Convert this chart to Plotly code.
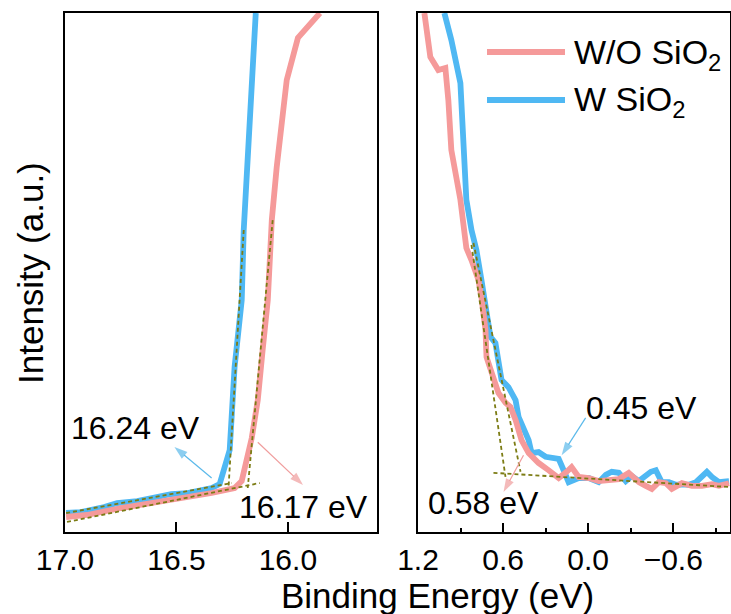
import plotly.graph_objects as go

# ---------------- data ----------------
# Left panel (secondary electron cut-off region)
left_wo_E = [16.995, 16.901, 16.748, 16.599, 16.450, 16.342, 16.239, 16.207, 16.162, 16.135,
             16.113, 16.090, 16.072, 16.050, 16.005, 15.955, 15.856]
left_wo_I = [2.89, 3.28, 4.62, 5.59, 6.74, 7.51, 8.48, 9.83, 18.1, 25.4,
             35.1, 44.7, 60.1, 70.3, 87.1, 95.2, 100.0]
left_w_E = [16.995, 16.928, 16.824, 16.766, 16.676, 16.631, 16.523, 16.450, 16.342, 16.306,
            16.261, 16.239, 16.207, 16.198, 16.144]
left_w_I = [3.66, 3.85, 4.82, 5.59, 5.97, 6.36, 7.32, 7.51, 8.48, 9.25,
            15.8, 31.8, 44.7, 58.2, 100.0]

# Right panel (valence band region)
right_wo_E = [1.155, 1.113, 1.057, 1.007, 0.986, 0.965, 0.901, 0.873, 0.859, 0.823,
              0.774, 0.753, 0.724, 0.717, 0.668, 0.633, 0.583, 0.548, 0.512, 0.470,
              0.420, 0.350, 0.279, 0.208, 0.152, 0.117, 0.067, -0.004, -0.074, -0.145,
              -0.216, -0.286, -0.357, -0.406, -0.449, -0.498, -0.548, -0.590, -0.661, -0.731,
              -0.802, -0.873, -0.922, -0.993]
right_wo_I = [100.0, 91.5, 89.0, 89.4, 83.2, 73.6, 64.0, 57.2, 54.7, 52.4,
              48.6, 45.3, 38.9, 33.7, 29.3, 26.8, 24.9, 24.1, 21.6, 17.7,
              15.2, 13.3, 11.9, 10.4, 11.6, 12.5, 10.6, 10.4, 9.8, 10.0,
              10.2, 11.4, 9.6, 8.9, 8.3, 9.6, 9.4, 8.3, 9.4, 8.9,
              8.9, 9.2, 8.9, 9.4]
right_w_E = [1.014, 0.965, 0.901, 0.880, 0.859, 0.823, 0.788, 0.753, 0.689, 0.654,
             0.611, 0.562, 0.512, 0.491, 0.456, 0.420, 0.399, 0.350, 0.300, 0.208,
             0.173, 0.138, 0.067, -0.004, -0.074, -0.124, -0.166, -0.216, -0.265, -0.307,
             -0.357, -0.442, -0.477, -0.519, -0.569, -0.618, -0.661, -0.710, -0.760, -0.802,
             -0.837, -0.873, -0.922, -0.993]
right_w_I = [100.0, 94.8, 86.5, 76.9, 64.0, 58.2, 54.3, 48.6, 37.6, 36.4,
             29.3, 27.9, 25.4, 22.2, 20.2, 17.7, 15.2, 15.4, 14.5, 14.1,
             11.9, 9.6, 10.4, 10.4, 9.6, 11.0, 11.6, 11.4, 9.8, 10.8,
             9.8, 11.6, 11.9, 9.6, 9.6, 9.1, 9.2, 9.1, 9.6, 10.6,
             11.6, 10.6, 9.6, 9.8]

# Linear extrapolation (fit) lines
fit_left_w_edge_E = [16.198, 16.266]
fit_left_w_edge_I = [58.2, 8.67]
fit_left_wo_edge_E = [16.068, 16.180]
fit_left_wo_edge_I = [60.1, 8.48]
fit_left_w_base_E = [16.995, 16.252]
fit_left_w_base_I = [3.66, 9.44]
fit_left_wo_base_E = [16.991, 16.126]
fit_left_wo_base_I = [1.93, 9.44]

fit_right_wo_edge_E = [0.823, 0.583]
fit_right_wo_edge_I = [55.3, 10.6]
fit_right_w_edge_E = [0.809, 0.477]
fit_right_w_edge_I = [55.7, 11.6]
fit_right_base_E = [0.668, -0.993]
fit_right_base_I = [11.4, 8.67]

# pointer arrows: [tail, head]
arrow_left_w_E = [16.342, 16.509]
arrow_left_w_I = [10.4, 16.4]
arrow_left_wo_E = [16.135, 15.932]
arrow_left_wo_I = [17.3, 9.06]
arrow_right_w_E = [0.018, 0.187]
arrow_right_w_I = [22.0, 14.8]
arrow_right_wo_E = [0.456, 0.597]
arrow_right_wo_I = [14.8, 7.71]

series_names = ["W/O SiO<sub>2</sub>", "W SiO<sub>2</sub>"]
labels_left = ["16.24 eV", "16.17 eV"]
labels_right = ["0.45 eV", "0.58 eV"]

PINK = "#F59A9A"
BLUE = "#4FB8F3"
OLIVE = "#7C7C14"
ARROW_BLUE = "#5BB9EA"
ARROW_PINK = "#F09C9C"
FONT = "Arial, Liberation Sans, sans-serif"

fig = go.Figure()

LW = 5.8
fig.add_trace(go.Scatter(x=left_w_E, y=left_w_I, mode="lines", line=dict(color=BLUE, width=LW),
                         xaxis="x", yaxis="y", showlegend=False))
fig.add_trace(go.Scatter(x=left_wo_E, y=left_wo_I, mode="lines", line=dict(color=PINK, width=LW),
                         xaxis="x", yaxis="y", showlegend=False))
fig.add_trace(go.Scatter(x=right_w_E, y=right_w_I, mode="lines", line=dict(color=BLUE, width=LW),
                         xaxis="x2", yaxis="y2", showlegend=False))
fig.add_trace(go.Scatter(x=right_wo_E, y=right_wo_I, mode="lines", line=dict(color=PINK, width=LW),
                         xaxis="x2", yaxis="y2", showlegend=False))

dash = dict(color=OLIVE, width=1.8, dash="4px,3px")
for xs, ys in [(fit_left_w_edge_E, fit_left_w_edge_I), (fit_left_wo_edge_E, fit_left_wo_edge_I),
               (fit_left_w_base_E, fit_left_w_base_I), (fit_left_wo_base_E, fit_left_wo_base_I)]:
    fig.add_trace(go.Scatter(x=xs, y=ys, mode="lines", line=dash, xaxis="x", yaxis="y", showlegend=False))
for xs, ys in [(fit_right_wo_edge_E, fit_right_wo_edge_I), (fit_right_w_edge_E, fit_right_w_edge_I),
               (fit_right_base_E, fit_right_base_I)]:
    fig.add_trace(go.Scatter(x=xs, y=ys, mode="lines", line=dash, xaxis="x2", yaxis="y2", showlegend=False))

for xs, ys, col, xa, ya in [(arrow_left_w_E, arrow_left_w_I, ARROW_BLUE, "x", "y"),
                            (arrow_left_wo_E, arrow_left_wo_I, ARROW_PINK, "x", "y"),
                            (arrow_right_w_E, arrow_right_w_I, ARROW_BLUE, "x2", "y2"),
                            (arrow_right_wo_E, arrow_right_wo_I, ARROW_PINK, "x2", "y2")]:
    fig.add_trace(go.Scatter(x=xs, y=ys, mode="lines+markers", line=dict(color=col, width=1.2),
                             marker=dict(symbol="arrow", size=[0, 14], angleref="previous", color=col,
                                         line=dict(width=0)),
                             xaxis=xa, yaxis=ya, showlegend=False, cliponaxis=False))

W, H = 731, 614
def px(x):
    return x / W
def py(y):
    return 1 - y / H

axis_common = dict(showline=True, mirror=True, linecolor="black", linewidth=1.5,
                   showgrid=False, zeroline=False, ticks="inside", tickcolor="black",
                   tickwidth=1.5, tickfont=dict(family=FONT, size=30, color="black"),
                   tickformat=".1f")

fig.update_layout(
    width=W, height=H, margin=dict(l=0, r=0, t=0, b=0, pad=0), autosize=False,
    paper_bgcolor="white", plot_bgcolor="white", showlegend=False,
    font=dict(family=FONT, color="black"),
    xaxis=dict(domain=[px(65), px(377)], range=[17.0, 15.6], dtick=0.5, tick0=0, ticklen=10,
               anchor="y", automargin=False, **axis_common),
    yaxis=dict(domain=[py(532), py(13)], range=[0, 100], showticklabels=False, ticks="",
               showline=True, mirror=True, linecolor="black", linewidth=1.5,
               showgrid=False, zeroline=False, anchor="x", automargin=False),
    xaxis2=dict(domain=[px(418), px(730)], range=[1.2, -1.0], dtick=0.6, tick0=0, ticklen=9,
                minor=dict(dtick=0.3, tick0=0, ticklen=4, ticks="inside", tickcolor="black", tickwidth=1.5),
                anchor="y2", automargin=False, **axis_common),
    yaxis2=dict(domain=[py(532), py(13)], range=[0, 100], showticklabels=False, ticks="",
                showline=True, mirror=True, linecolor="black", linewidth=1.5,
                showgrid=False, zeroline=False, anchor="x2", automargin=False),
)

ann = []
ann.append(dict(text="Binding Energy (eV)", x=px(437), y=py(595), xref="paper", yref="paper",
                showarrow=False, font=dict(size=35, family=FONT), xanchor="center", yanchor="middle"))
ann.append(dict(text="Intensity (a.u.)", x=px(30), y=py(273), xref="paper", yref="paper",
                showarrow=False, textangle=-90, font=dict(size=35, family=FONT),
                xanchor="center", yanchor="middle"))
ann.append(dict(text=labels_left[0], x=16.685, y=20.0, xref="x", yref="y", showarrow=False,
                font=dict(size=32, family=FONT), xanchor="center", yanchor="middle"))
ann.append(dict(text=labels_left[1], x=15.928, y=4.8, xref="x", yref="y", showarrow=False,
                font=dict(size=32, family=FONT), xanchor="center", yanchor="middle"))
ann.append(dict(text=labels_right[0], x=-0.378, y=23.9, xref="x2", yref="y2", showarrow=False,
                font=dict(size=32, family=FONT), xanchor="center", yanchor="middle"))
ann.append(dict(text=labels_right[1], x=0.739, y=5.6, xref="x2", yref="y2", showarrow=False,
                font=dict(size=32, family=FONT), xanchor="center", yanchor="middle"))

shapes = []
for i, (col, yy) in enumerate([(PINK, 52), (BLUE, 100)]):
    shapes.append(dict(type="line", xref="paper", yref="paper", x0=px(487), x1=px(565),
                       y0=py(yy), y1=py(yy), line=dict(color=col, width=6)))
    ann.append(dict(text=series_names[i], x=px(572), y=py(yy + 2), xref="paper", yref="paper",
                    showarrow=False, font=dict(size=34, family=FONT), xanchor="left", yanchor="middle"))

fig.update_layout(annotations=ann, shapes=shapes)
fig.write_html("out.html",
               post_script="document.body.style.margin='0px';document.body.style.overflow='hidden';")
